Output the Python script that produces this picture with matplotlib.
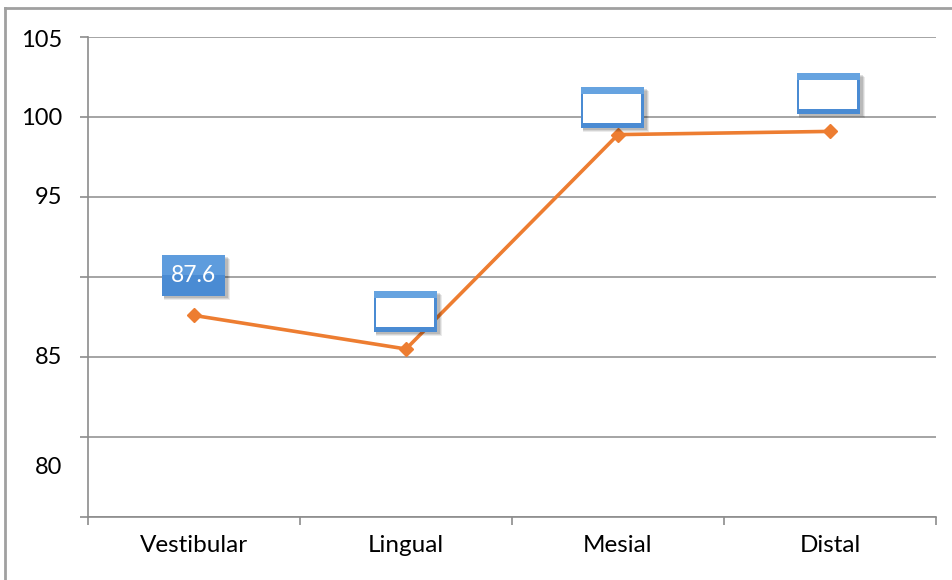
import matplotlib
matplotlib.use("Agg")
import matplotlib.pyplot as plt
from matplotlib.patches import Rectangle
from matplotlib.lines import Line2D
from matplotlib.transforms import IdentityTransform

plt.rcParams['font.family'] = ['Lato', 'DejaVu Sans']

# surface values per tooth face
categories = ['Vestibular', 'Lingual', 'Mesial', 'Distal']
values = [87.6, 85.5, 98.9, 99.1]
shown_labels = ['87.6', '', '', '']

# y axis labels as they sit on the axis
ytick_text = ['105', '100', '95', '85', '80']
ytick_pos = [104.8, 99.9, 95, 85, 78.1]

orange = '#ED7D31'
grid_gray = '#8C8C8C'
blue = '#4A8BD3'

fig = plt.figure(figsize=(9.53, 5.8), dpi=100)
ax = fig.add_axes([88 / 953, 1 - 517 / 580, (936 - 88) / 953, (517 - 37) / 580])

x = list(range(len(categories)))
ax.plot(x, values, color=orange, lw=2.6, marker='D', markersize=7.5, zorder=3)

ax.set_xlim(-0.5, len(categories) - 0.5)
ax.set_ylim(75, 105)

ax.set_yticks(range(75, 106, 5))
ax.set_yticklabels([])
ax.set_xticks([i - 0.5 for i in range(len(categories) + 1)])
ax.set_xticklabels([])
ax.set_xticks(x, minor=True)
ax.set_xticklabels(categories, minor=True, fontsize=17.5)
ax.tick_params(axis='x', which='minor', length=0, pad=13)
ax.tick_params(axis='both', which='major', length=6, width=1.2, color=grid_gray)

ax.grid(axis='y', color=grid_gray, lw=1.1)
for s in ['top', 'right']:
    ax.spines[s].set_visible(False)
for s in ['left', 'bottom']:
    ax.spines[s].set_color(grid_gray)
    ax.spines[s].set_linewidth(1.2)

for t, p in zip(ytick_text, ytick_pos):
    ax.text(-0.62, p, t, ha='right', va='center', fontsize=17)

# data label boxes above the points
offsets = [(0, 40), (0, 38), (-5, 27), (-1, 38)]
bw, bh = 63, 41
ident = IdentityTransform()
for i, (v, lab, (dx, dy)) in enumerate(zip(values, shown_labels, offsets)):
    px, py = ax.transData.transform((i, v))
    cx, cy = px + dx, py + dy
    x0, y0 = cx - bw / 2, cy - bh / 2
    for k, a in enumerate([0.08, 0.1, 0.12]):
        sh = 4 - k
        fig.add_artist(Rectangle((x0 + 2, y0 - sh), bw + sh - 1, bh, transform=ident,
                                 facecolor='black', alpha=a, lw=0, zorder=4))
    fig.add_artist(Rectangle((x0, y0), bw, bh, transform=ident,
                             facecolor=blue, lw=0, zorder=5))
    if lab:
        fig.add_artist(Rectangle((x0, y0 + bh / 2), bw, bh / 2, transform=ident,
                                 facecolor='#5E9CDD', lw=0, zorder=5))
        fig.text(cx / 953, cy / 580, lab, ha='center', va='center', color='white',
                 fontsize=16.5, zorder=6)
    else:
        fig.add_artist(Rectangle((x0, y0 + bh - 7), bw, 7, transform=ident,
                                 facecolor='#66A3E0', lw=0, zorder=5))
        fig.add_artist(Rectangle((x0 + 2, y0 + 5), bw - 5, bh - 12, transform=ident,
                                 facecolor='white', lw=0, zorder=6))

# outer frame on the left and top edges
fig.add_artist(Line2D([5 / 953, 5 / 953], [0, 1 - 8 / 580], color='#A0A0A0', lw=2))
fig.add_artist(Line2D([5 / 953, 1], [1 - 8 / 580, 1 - 8 / 580], color='#A0A0A0', lw=2))

fig.savefig('out.png', dpi=100)
